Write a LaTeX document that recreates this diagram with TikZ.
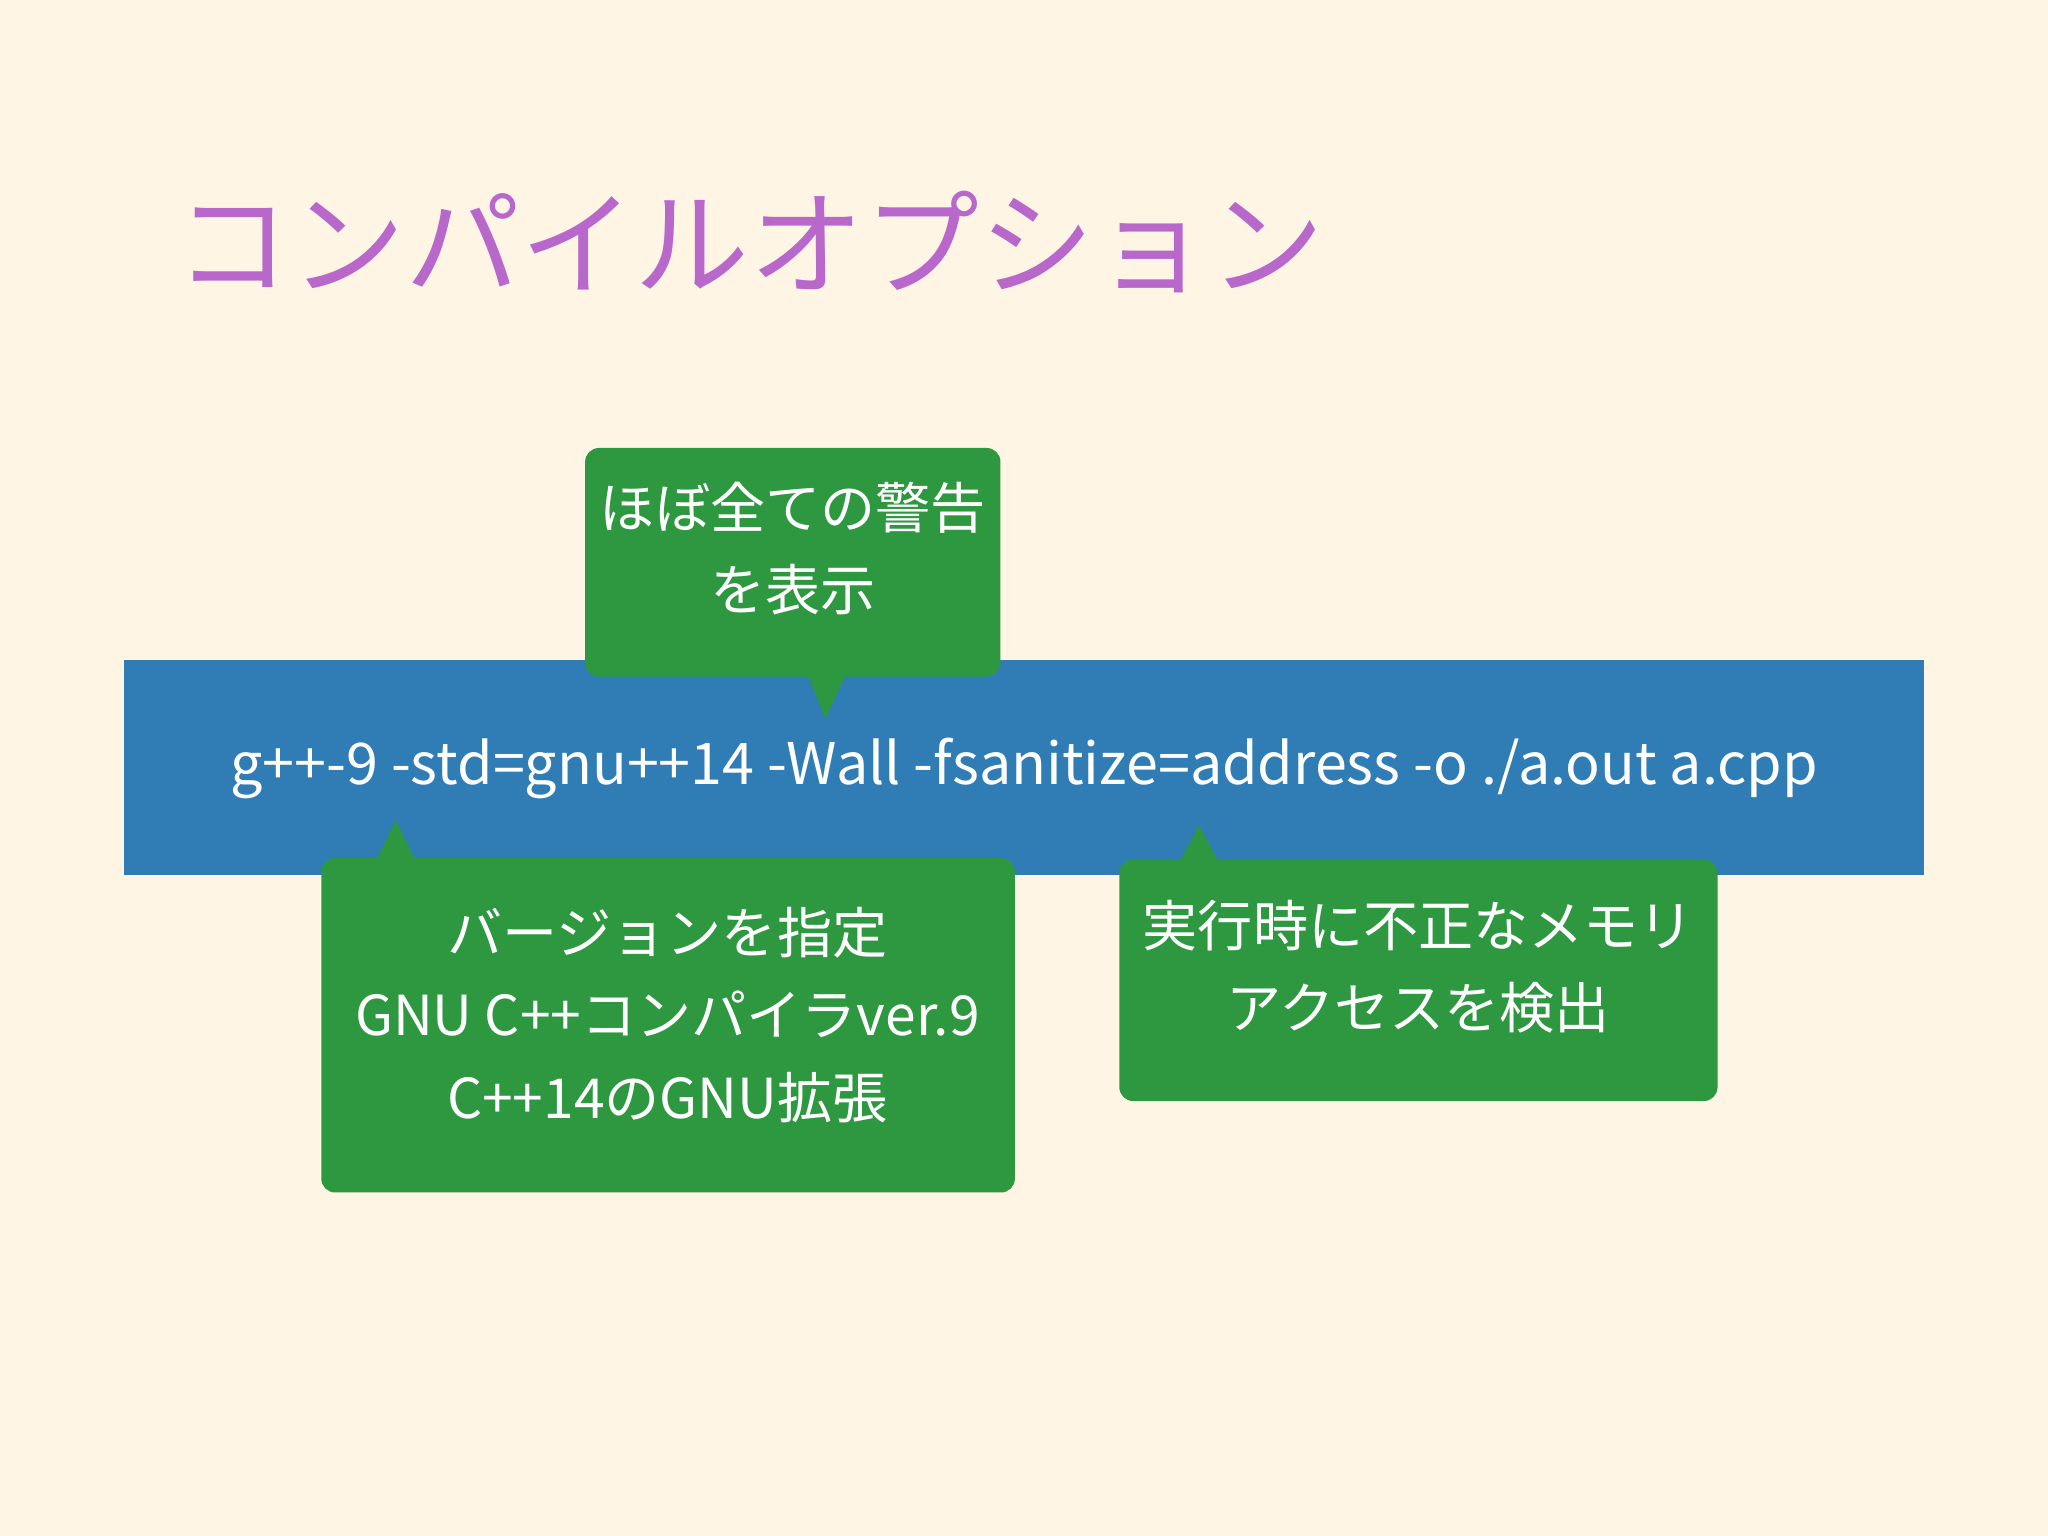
\documentclass[tikz,border=0pt]{standalone}
\usepackage{fontspec}
\setmainfont{Noto Sans CJK JP}
\definecolor{bg}{HTML}{FFF5E4}
\definecolor{ttl}{HTML}{B867CB}
\definecolor{bar}{HTML}{2F7DB4}
\definecolor{grn}{HTML}{2E9840}
\tikzset{
  gbox/.style={fill=grn,rounded corners=3pt,draw=none},
  btxt/.style={text=white,font=\fontsize{12}{18}\selectfont,align=center},
}
\begin{document}
\begin{tikzpicture}[x=0.01cm,y=-0.01cm]
\fill[bg] (0,0) rectangle (1568,1176);
\useasboundingbox (0,0) rectangle (1568,1176);
\node[anchor=west,text=ttl,font=\fontsize{25}{30}\selectfont] (title) at (122,185) {コンパイルオプション};
\fill[bar] (95,505) rectangle (1473,670);
\node[text=white,font=\fontsize{12.5}{15}\selectfont] (cmd) at (784,588) {g++-9 -std=gnu++14 -Wall -fsanitize=address -o ./a.out a.cpp};
% box 1
\fill[grn] (618,516) -- (632,550) -- (648,516) -- cycle;
\fill[gbox] (448,343) rectangle (766,518);
\node[btxt] (b1) at (607,420) {ほぼ全ての警告\\を表示};
% box 2
\fill[grn] (288,659) -- (303,628) -- (318,659) -- cycle;
\fill[gbox] (246,657) rectangle (777,913);
\node[btxt] (b2) at (511,777) {バージョンを指定\\GNU C++コンパイラver.9\\C++14のGNU拡張};
% box 3
\fill[grn] (903,660) -- (918,632) -- (933,660) -- cycle;
\fill[gbox] (857,658) rectangle (1315,843);
\node[btxt] (b3) at (1086,740) {実行時に不正なメモリ\\アクセスを検出};
\end{tikzpicture}
\end{document}
